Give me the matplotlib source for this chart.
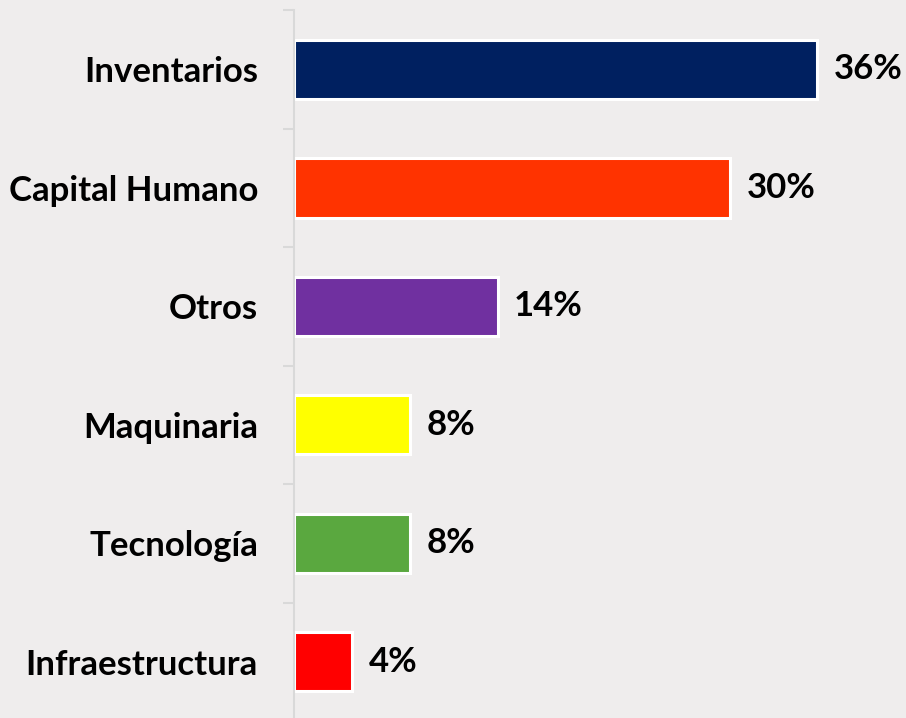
import matplotlib
matplotlib.use("Agg")
import matplotlib.pyplot as plt
import numpy as np

categories = ["Inventarios", "Capital Humano", "Otros", "Maquinaria", "Tecnología", "Infraestructura"]
values = [36, 30, 14, 8, 8, 4]
colors = ["#002060", "#FF3300", "#7030A0", "#FFFF00", "#5AA83F", "#FF0000"]

bg = "#EFEDED"
font = "Lato"
fsize = 25

fig = plt.figure(figsize=(9.06, 7.18), dpi=100, facecolor=bg)
ax = fig.add_axes([294 / 906, -0.0042, 1 - 294 / 906, 0.99])
ax.set_facecolor(bg)

y = np.arange(len(categories))
ax.barh(y, values, height=0.5, color=colors, edgecolor="white", linewidth=2.2)

for yi, v in zip(y, values):
    ax.annotate("{}%".format(v), (v, yi), xytext=(12, 0), textcoords="offset points",
                va="center", ha="left", fontsize=fsize, fontweight="bold", family=font)

ax.set_ylim(len(categories) - 0.5, -0.5)
ax.set_xlim(0, 42.1)
ax.set_yticks(np.arange(-0.5, len(categories), 1.0))
ax.set_yticklabels([])
ax.set_yticks(y, minor=True)
ax.set_yticklabels(categories, minor=True, fontsize=fsize, fontweight="bold", family=font)
ax.tick_params(axis="y", which="major", length=8, color="#D9D9D9", width=1.5)
ax.tick_params(axis="y", which="minor", length=0, pad=26)
ax.set_xticks([])

for s in ["top", "right", "bottom"]:
    ax.spines[s].set_visible(False)
ax.spines["left"].set_color("#D9D9D9")
ax.spines["left"].set_linewidth(1.5)

fig.savefig("out.png", dpi=100, facecolor=bg)
